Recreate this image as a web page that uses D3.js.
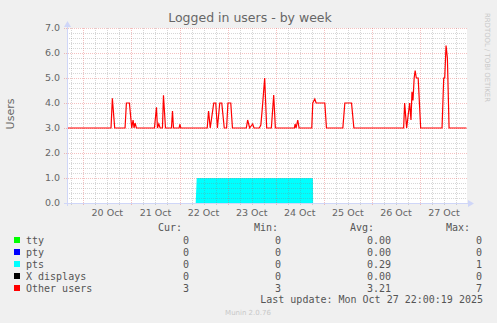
<!DOCTYPE html>
<html lang="en">
<head>
  <meta charset="UTF-8">
  <title>Logged in users - by week</title>
  <script src="https://d3js.org/d3.v7.min.js"></script>
  <style>
    body { margin: 0; background: #f0f0f0; }
    svg { display: block; }
    text { font-family: "DejaVu Sans", sans-serif; fill: #666; }
    .mono { font-family: "DejaVu Sans Mono", monospace; font-size: 10px; fill: #555; }
  </style>
</head>
<body>
<script>
// time range shown, and the series (time, value)
var rangeStart = "2025-10-19 15:52";
var rangeEnd = "2025-10-27 23:27";

var yTicks = [0, 1, 2, 3, 4, 5, 6, 7];

// pts (cyan area)
var ptsSeries = [
  ["2025-10-19 15:52", 0], ["2025-10-22 08:05", 0], ["2025-10-22 08:35", 1],
  ["2025-10-24 18:35", 1], ["2025-10-24 18:40", 0], ["2025-10-27 23:10", 0]
];

// Other users (red line)
var otherSeries = [
  ["2025-10-19 15:52", 3.0], ["2025-10-20 13:50", 3.0], ["2025-10-20 14:30", 4.19],
  ["2025-10-20 15:40", 3.0], ["2025-10-20 20:50", 3.0], ["2025-10-20 21:30", 4.0],
  ["2025-10-20 23:00", 4.0], ["2025-10-21 00:10", 3.0], ["2025-10-21 00:50", 3.32],
  ["2025-10-21 01:20", 3.0], ["2025-10-21 01:50", 3.2], ["2025-10-21 02:30", 3.0],
  ["2025-10-21 11:30", 3.0], ["2025-10-21 12:30", 3.83], ["2025-10-21 13:00", 3.0],
  ["2025-10-21 13:40", 3.16], ["2025-10-21 14:20", 3.0], ["2025-10-21 15:30", 3.0],
  ["2025-10-21 16:00", 4.31], ["2025-10-21 17:00", 3.0], ["2025-10-21 20:00", 3.0],
  ["2025-10-21 20:30", 3.68], ["2025-10-21 21:00", 3.0], ["2025-10-21 23:50", 3.0],
  ["2025-10-22 00:10", 3.15], ["2025-10-22 00:40", 3.0], ["2025-10-22 13:50", 3.0],
  ["2025-10-22 14:30", 3.68], ["2025-10-22 15:20", 3.0], ["2025-10-22 17:05", 4.0],
  ["2025-10-22 18:05", 4.0], ["2025-10-22 18:55", 3.0], ["2025-10-22 20:05", 4.0],
  ["2025-10-22 21:05", 4.0], ["2025-10-22 22:20", 3.0], ["2025-10-22 23:30", 3.0],
  ["2025-10-23 00:10", 4.0], ["2025-10-23 01:35", 4.0], ["2025-10-23 02:25", 3.0],
  ["2025-10-23 09:20", 3.0], ["2025-10-23 10:00", 3.32], ["2025-10-23 11:00", 3.0],
  ["2025-10-23 12:30", 3.16], ["2025-10-23 13:10", 3.0], ["2025-10-23 15:50", 3.0],
  ["2025-10-23 16:35", 3.12], ["2025-10-23 17:20", 3.8], ["2025-10-23 18:30", 5.0],
  ["2025-10-23 19:30", 3.0], ["2025-10-23 21:50", 3.0], ["2025-10-23 23:00", 4.32],
  ["2025-10-23 23:50", 3.0], ["2025-10-24 09:20", 3.0], ["2025-10-24 09:40", 3.16],
  ["2025-10-24 10:10", 3.0], ["2025-10-24 11:00", 3.32], ["2025-10-24 11:40", 3.0],
  ["2025-10-24 18:00", 3.0], ["2025-10-24 18:30", 4.0], ["2025-10-24 19:30", 4.16],
  ["2025-10-24 20:10", 4.0], ["2025-10-25 00:30", 4.0], ["2025-10-25 01:20", 3.0],
  ["2025-10-25 09:30", 3.0], ["2025-10-25 10:30", 4.0], ["2025-10-25 13:50", 4.0],
  ["2025-10-25 15:00", 3.0], ["2025-10-26 15:50", 3.0], ["2025-10-26 16:20", 4.0],
  ["2025-10-26 17:20", 3.0], ["2025-10-26 18:50", 4.0], ["2025-10-26 19:30", 3.32],
  ["2025-10-26 20:00", 4.45], ["2025-10-26 20:30", 4.1], ["2025-10-26 21:05", 5.0],
  ["2025-10-26 21:35", 5.3], ["2025-10-26 22:10", 5.0], ["2025-10-26 23:05", 5.0],
  ["2025-10-27 00:20", 3.0], ["2025-10-27 11:00", 3.0], ["2025-10-27 11:50", 5.0],
  ["2025-10-27 12:20", 5.0], ["2025-10-27 13:00", 6.3], ["2025-10-27 13:40", 5.8],
  ["2025-10-27 14:30", 3.0], ["2025-10-27 23:10", 3.0]
];

// legend table
var legendNames = ["tty", "pty", "pts", "X displays", "Other users"];
var legendColors = ["#00ff00", "#0000ff", "#00ffff", "#000000", "#ff0000"];
var curValues = ["0", "0", "0", "0", "3"];
var minValues = ["0", "0", "0", "0", "3"];
var avgValues = ["0.00", "0.00", "0.29", "0.00", "3.21"];
var maxValues = ["0", "0", "1", "0", "7"];

var W = 497, H = 323;
var pL = 67, pR = 467, pT = 28, pB = 203;

var parse = d3.timeParse("%Y-%m-%d %H:%M");
var t0 = parse(rangeStart), t1 = parse(rangeEnd);

var x = d3.scaleTime().domain([t0, t1]).range([pL, pR]);
var y = d3.scaleLinear().domain([0, 7]).range([pB, pT]);

var svg = d3.select("body").append("svg").attr("width", W).attr("height", H);

// canvas
svg.append("rect").attr("x", pL).attr("y", pT)
  .attr("width", pR - pL).attr("height", pB - pT).attr("fill", "#fff");

// pts area
var area = d3.area()
  .x(function(d) { return x(parse(d[0])); })
  .y0(y(0))
  .y1(function(d) { return y(d[1]); });
svg.append("path").datum(ptsSeries).attr("d", area).attr("fill", "#00ffff");

// grid
var grid = svg.append("g");
var minorY = d3.range(0, 7.01, 0.2).filter(function(v) { return Math.abs(v - Math.round(v)) > 0.01; });
grid.selectAll(".hmin").data(minorY).enter().append("line")
  .attr("x1", pL).attr("x2", pR)
  .attr("y1", function(d) { return Math.round(y(d)) + 0.5; })
  .attr("y2", function(d) { return Math.round(y(d)) + 0.5; })
  .attr("stroke", "rgba(128,128,128,0.32)").attr("stroke-dasharray", "1,1");

var minorX = d3.timeHour.every(6).range(t0, t1).filter(function(d) { return d.getHours() !== 0; });
grid.selectAll(".vmin").data(minorX).enter().append("line")
  .attr("x1", function(d) { return Math.round(x(d)) + 0.5; })
  .attr("x2", function(d) { return Math.round(x(d)) + 0.5; })
  .attr("y1", pT).attr("y2", pB + 2)
  .attr("stroke", "rgba(128,128,128,0.32)").attr("stroke-dasharray", "1,1");

grid.selectAll(".hmaj").data(yTicks.slice(1)).enter().append("line")
  .attr("x1", pL - 3).attr("x2", pR)
  .attr("y1", function(d) { return Math.round(y(d)) + 0.5; })
  .attr("y2", function(d) { return Math.round(y(d)) + 0.5; })
  .attr("stroke", "rgba(225,90,90,0.38)").attr("stroke-dasharray", "1,1");

var days = d3.timeDay.range(t0, t1);
grid.selectAll(".vmaj").data(days).enter().append("line")
  .attr("x1", function(d) { return Math.round(x(d)) + 0.5; })
  .attr("x2", function(d) { return Math.round(x(d)) + 0.5; })
  .attr("y1", pT).attr("y2", pB + 3)
  .attr("stroke", "rgba(225,90,90,0.38)").attr("stroke-dasharray", "1,1");

// other users line
var line = d3.line()
  .x(function(d) { return x(parse(d[0])); })
  .y(function(d) { return y(d[1]); });
svg.append("path").datum(otherSeries).attr("d", line)
  .attr("fill", "none").attr("stroke", "#ff0000").attr("stroke-width", 1.2);

// axes + arrows
var axisColor = "#cfd6f8";
svg.append("line").attr("x1", pL - 3).attr("x2", pR + 3)
  .attr("y1", pB + 0.5).attr("y2", pB + 0.5).attr("stroke", axisColor);
svg.append("line").attr("x1", pL + 0.5).attr("x2", pL + 0.5)
  .attr("y1", pB + 3).attr("y2", pT - 3).attr("stroke", axisColor);
svg.append("path").attr("d", "M" + (pR + 7) + "," + (pB + 0.5) + "l-6,-3.5v7z").attr("fill", axisColor);
svg.append("path").attr("d", "M" + (pL + 0.5) + "," + (pT - 7) + "l-3.5,6h7z").attr("fill", axisColor);

// y tick labels
svg.selectAll(".ylab").data(yTicks).enter().append("text")
  .attr("x", 60).attr("y", function(d) { return y(d); })
  .attr("dy", "0.35em").attr("text-anchor", "end")
  .style("font-size", "9.5px")
  .text(function(d) { return d3.format(".1f")(d); });

// x tick labels at noon
var noons = days.map(function(d) { return d3.timeHour.offset(d, 12); })
  .filter(function(d) { return d > t0 && d < t1; });
svg.selectAll(".xlab").data(noons).enter().append("text")
  .attr("x", function(d) { return x(d); }).attr("y", 216)
  .attr("text-anchor", "middle").style("font-size", "9.5px")
  .text(d3.timeFormat("%d %b"));

// title and axis label
svg.append("text").attr("x", 250).attr("y", 22).attr("text-anchor", "middle")
  .style("font-size", "12.5px").text("Logged in users - by week");
svg.append("text").attr("transform", "translate(14,114) rotate(-90)")
  .attr("text-anchor", "middle").style("font-size", "11px").text("Users");
svg.append("text").attr("transform", "translate(485,13) rotate(90)")
  .attr("textLength", 89).attr("lengthAdjust", "spacingAndGlyphs")
  .style("font-size", "7px").style("fill", "#c8c8c8").text("RRDTOOL / TOBI OETIKER");

// legend
svg.append("text").attr("class", "mono").attr("x", 182).attr("y", 231).attr("text-anchor", "end").text("Cur:");
svg.append("text").attr("class", "mono").attr("x", 278).attr("y", 231).attr("text-anchor", "end").text("Min:");
svg.append("text").attr("class", "mono").attr("x", 374).attr("y", 231).attr("text-anchor", "end").text("Avg:");
svg.append("text").attr("class", "mono").attr("x", 470).attr("y", 231).attr("text-anchor", "end").text("Max:");

var rows = svg.selectAll(".lrow").data(legendNames).enter().append("g")
  .attr("transform", function(d, i) { return "translate(0," + (240 + i * 12) + ")"; });
rows.append("rect").attr("x", 14).attr("y", -3).attr("width", 6).attr("height", 6)
  .attr("fill", function(d, i) { return legendColors[i]; });
rows.append("text").attr("class", "mono").attr("x", 26).attr("dy", "0.35em").text(function(d) { return d; });
rows.append("text").attr("class", "mono").attr("x", 189).attr("dy", "0.35em").attr("text-anchor", "end")
  .text(function(d, i) { return curValues[i]; });
rows.append("text").attr("class", "mono").attr("x", 281).attr("dy", "0.35em").attr("text-anchor", "end")
  .text(function(d, i) { return minValues[i]; });
rows.append("text").attr("class", "mono").attr("x", 391).attr("dy", "0.35em").attr("text-anchor", "end")
  .text(function(d, i) { return avgValues[i]; });
rows.append("text").attr("class", "mono").attr("x", 482).attr("dy", "0.35em").attr("text-anchor", "end")
  .text(function(d, i) { return maxValues[i]; });

svg.append("text").attr("class", "mono").attr("x", 483).attr("y", 299).attr("dy", "0.35em")
  .attr("text-anchor", "end").text("Last update: Mon Oct 27 22:00:19 2025");
svg.append("text").attr("x", 248).attr("y", 315).attr("text-anchor", "middle")
  .style("font-size", "7px").style("fill", "#c8c8c8").text("Munin 2.0.76");
</script>
</body>
</html>
